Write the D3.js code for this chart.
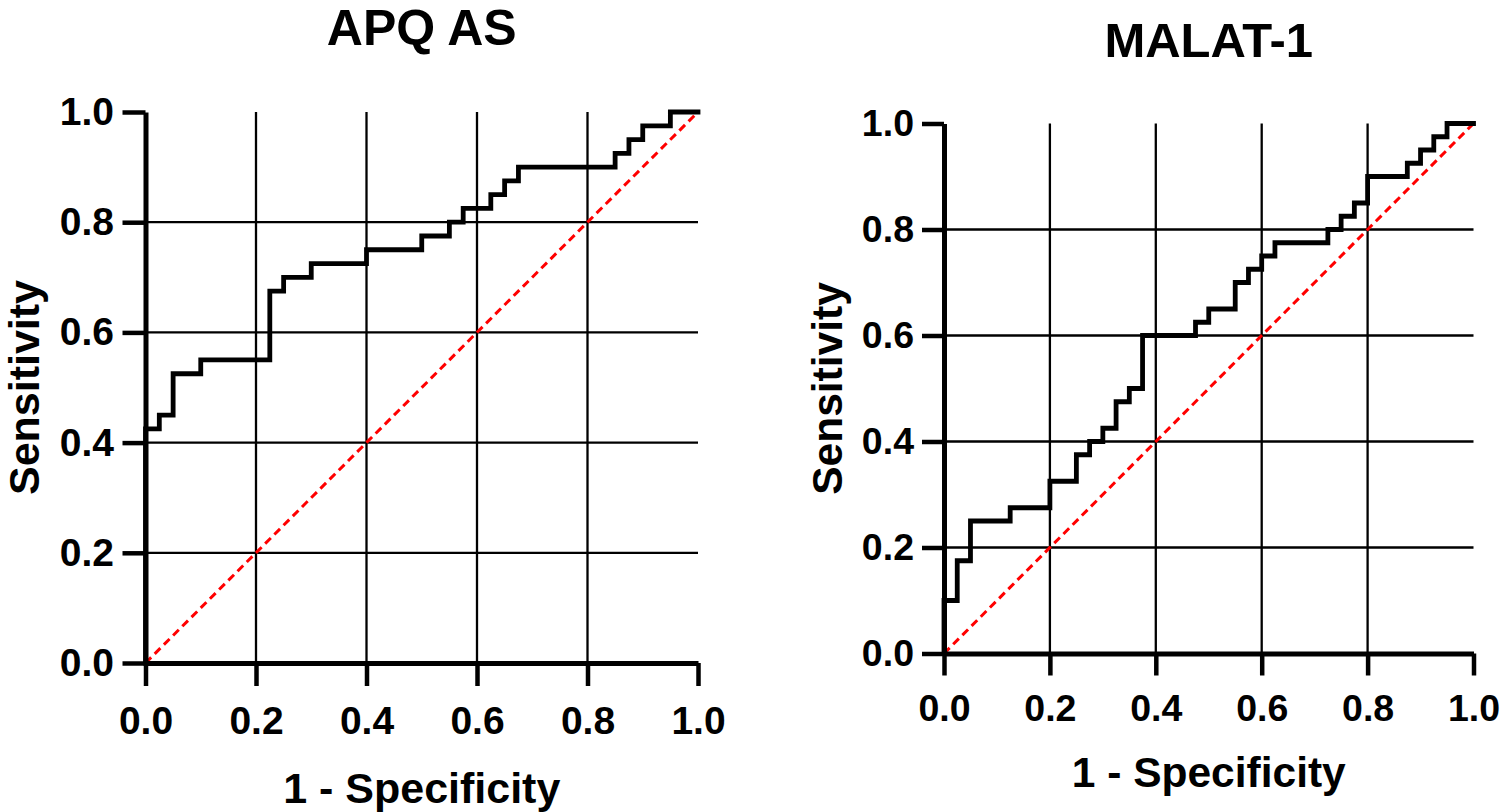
<!DOCTYPE html>
<html>
<head>
<meta charset="utf-8">
<script src="https://cdn.jsdelivr.net/npm/d3@7"></script>
<style>
  html, body { margin: 0; padding: 0; background: #fff; }
  svg { display: block; }
  text { font-family: "Liberation Sans", Arial, Helvetica, sans-serif; font-weight: bold; fill: #000; }
</style>
</head>
<body>
<svg id="chart" width="1502" height="812"></svg>
<script>
// ---- Data ----
const tickValues = [0.0, 0.2, 0.4, 0.6, 0.8, 1.0];
const gridValues = [0.2, 0.4, 0.6, 0.8];

const apqTitle = "APQ AS";
const apqFpr = [0, 0, 0.025, 0.05, 0.1, 0.225, 0.25, 0.3, 0.4, 0.5, 0.55, 0.575, 0.625, 0.65, 0.675, 0.85, 0.875, 0.9, 0.95, 1.0];
const apqTpr = [0, 0.425, 0.45, 0.525, 0.55, 0.675, 0.7, 0.725, 0.75, 0.775, 0.8, 0.825, 0.85, 0.875, 0.9, 0.925, 0.95, 0.975, 1.0, 1.0];

const malatTitle = "MALAT-1";
const malatFpr = [0, 0, 0.025, 0.05, 0.125, 0.2, 0.25, 0.275, 0.3, 0.325, 0.35, 0.375, 0.475, 0.5, 0.55, 0.575, 0.6, 0.625, 0.725, 0.75, 0.775, 0.8, 0.875, 0.9, 0.925, 0.95, 1.0];
const malatTpr = [0, 0.1, 0.175, 0.25, 0.275, 0.325, 0.375, 0.4, 0.425, 0.475, 0.5, 0.6, 0.625, 0.65, 0.7, 0.725, 0.75, 0.775, 0.8, 0.825, 0.85, 0.9, 0.925, 0.95, 0.975, 1.0, 1.0];

const refLine = [0, 1];

const xTitle = "1 - Specificity";
const yTitle = "Sensitivity";

// ---- Layout ----
const panels = [
  { title: apqTitle, fpr: apqFpr, tpr: apqTpr,
    x0: 145.5, x1: 698, y0: 663, y1: 112,
    titleSize: 50, titleY: 45, tickSize: 39, axisTitleSize: 43,
    xTitleY: 803, yTitleX: 39,
    tickLen: 23, yPad: 8.5, xPad: 20 },
  { title: malatTitle, fpr: malatFpr, tpr: malatTpr,
    x0: 944, x1: 1473.5, y0: 653.5, y1: 123.5,
    titleSize: 49, titleY: 57, tickSize: 37.5, axisTitleSize: 42.5,
    xTitleY: 787, yTitleX: 842,
    tickLen: 22, yPad: 8, xPad: 18.5 }
];

const svg = d3.select("#chart");

panels.forEach(p => {
  const x = d3.scaleLinear().domain([0, 1]).range([p.x0, p.x1]);
  const y = d3.scaleLinear().domain([0, 1]).range([p.y0, p.y1]);
  const g = svg.append("g");

  // gridlines
  g.selectAll("line.vgrid").data(gridValues).join("line")
    .attr("class", "vgrid")
    .attr("x1", d => x(d)).attr("x2", d => x(d))
    .attr("y1", y(1)).attr("y2", y(0))
    .attr("stroke", "#000").attr("stroke-width", 2.3);
  g.selectAll("line.hgrid").data(gridValues).join("line")
    .attr("class", "hgrid")
    .attr("x1", x(0)).attr("x2", x(1))
    .attr("y1", d => y(d)).attr("y2", d => y(d))
    .attr("stroke", "#000").attr("stroke-width", 2.3);

  // reference diagonal
  g.append("path")
    .datum(refLine)
    .attr("d", d3.line().x(d => x(d)).y(d => y(d)))
    .attr("fill", "none")
    .attr("stroke", "#ff0000")
    .attr("stroke-width", 3)
    .attr("stroke-dasharray", "8,5");

  // ROC step curve
  const pts = p.fpr.map((f, i) => [f, p.tpr[i]]);
  g.append("path")
    .datum(pts)
    .attr("d", d3.line().x(d => x(d[0])).y(d => y(d[1])).curve(d3.curveStepAfter))
    .attr("fill", "none")
    .attr("stroke", "#000")
    .attr("stroke-width", 4.8)
    .attr("stroke-linejoin", "miter")
    .attr("stroke-linecap", "square");

  // axes
  const xAxis = d3.axisBottom(x).tickValues(tickValues).tickFormat(d3.format(".1f"))
    .tickSize(p.tickLen).tickSizeOuter(0).tickPadding(p.xPad);
  const yAxis = d3.axisLeft(y).tickValues(tickValues).tickFormat(d3.format(".1f"))
    .tickSize(p.tickLen).tickSizeOuter(0).tickPadding(p.yPad);

  const gx = g.append("g").attr("transform", `translate(0,${p.y0})`).call(xAxis);
  const gy = g.append("g").attr("transform", `translate(${p.x0},0)`).call(yAxis);
  [gx, gy].forEach(a => {
    a.select(".domain").attr("stroke", "#000").attr("stroke-width", 5);
    a.selectAll(".tick line").attr("stroke", "#000").attr("stroke-width", 4.5);
    a.selectAll(".tick text")
      .style("font-size", p.tickSize + "px")
      .style("font-family", '"Liberation Sans", Arial, sans-serif')
      .style("font-weight", "bold")
      .attr("fill", "#000");
  });

  // title
  g.append("text")
    .attr("x", (p.x0 + p.x1) / 2).attr("y", p.titleY)
    .attr("text-anchor", "middle")
    .style("font-size", p.titleSize + "px")
    .text(p.title);

  // axis titles
  g.append("text")
    .attr("x", (p.x0 + p.x1) / 2).attr("y", p.xTitleY)
    .attr("text-anchor", "middle")
    .style("font-size", p.axisTitleSize + "px")
    .text(xTitle);
  g.append("text")
    .attr("transform", `translate(${p.yTitleX},${(p.y0 + p.y1) / 2}) rotate(-90)`)
    .attr("text-anchor", "middle")
    .style("font-size", p.axisTitleSize + "px")
    .text(yTitle);
});
</script>
</body>
</html>
